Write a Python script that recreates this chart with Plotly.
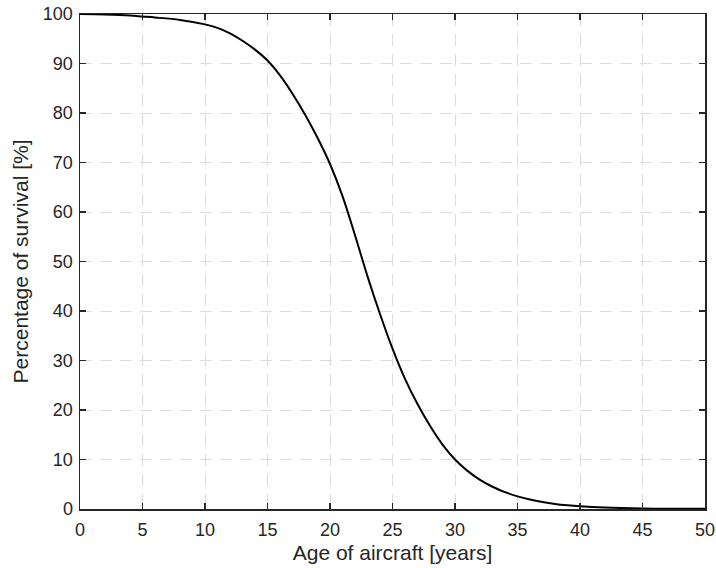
import plotly.graph_objects as go

# Data
age_years = [0, 2, 4, 5, 6, 8, 10, 11, 12, 13, 14, 15, 16, 17, 18, 19, 20, 21, 22, 23, 24,
             25, 26, 27, 28, 29, 30, 31, 32, 33, 34, 35, 36, 37, 38, 39, 40, 42, 45, 50]
survival_pct = [100, 99.9, 99.7, 99.5, 99.3, 98.8, 97.9, 97.2, 96.1, 94.6, 92.8, 90.6, 87.6,
                83.9, 79.7, 75.0, 69.7, 63.2, 55.3, 47.0, 39.4, 32.4, 26.3, 21.2, 16.8, 13.0,
                10.0, 7.7, 5.9, 4.5, 3.4, 2.55, 1.9, 1.4, 1.02, 0.75, 0.55, 0.3, 0.12, 0.03]

x_ticks = [0, 5, 10, 15, 20, 25, 30, 35, 40, 45, 50]
y_ticks = [0, 10, 20, 30, 40, 50, 60, 70, 80, 90, 100]

fig = go.Figure()
fig.add_trace(go.Scatter(
    x=age_years, y=survival_pct, mode="lines",
    line=dict(color="black", width=2, shape="spline", smoothing=1.0),
    showlegend=False, hoverinfo="skip",
))

axis_common = dict(
    showline=True, linecolor="#262626", linewidth=1.5, mirror="ticks",
    ticks="inside", ticklen=6, tickwidth=1.5, tickcolor="#262626",
    showgrid=True, gridcolor="#dcdcdc", gridwidth=1, griddash="12px,8px",
    zeroline=False, automargin=False,
    tickfont=dict(family="Liberation Sans, Arial, sans-serif", size=18, color="#262626"),
    title_font=dict(family="Liberation Sans, Arial, sans-serif", size=21, color="#262626"),
)

fig.update_xaxes(range=[0, 50], tickvals=x_ticks, title_text="Age of aircraft [years]",
                 title_standoff=6, ticklabelstandoff=4, **axis_common)
fig.update_yaxes(range=[0, 100], tickvals=y_ticks, title_text="Percentage of survival [%]",
                 title_standoff=8, ticklabelstandoff=2, **axis_common)

fig.update_layout(
    width=716, height=568,
    margin=dict(l=80, r=11, t=14, b=59),
    paper_bgcolor="white", plot_bgcolor="white",
)

fig.write_html(
    "out.html",
    config={"displayModeBar": False, "staticPlot": True},
    post_script="document.body.style.margin='0';document.body.style.overflow='hidden';",
)
